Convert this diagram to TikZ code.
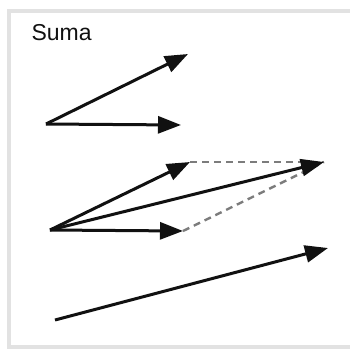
\documentclass[tikz,border=0pt]{standalone}
\usepackage{fontspec}
\setmainfont{Liberation Sans}
\usetikzlibrary{arrows.meta}
\definecolor{INK}{HTML}{111111}
\definecolor{FRAME}{HTML}{E2E2E2}

\begin{document}
\begin{tikzpicture}[
    x=1pt, y=-1pt,
    vec/.style={draw=INK, line width=3pt, -{Triangle[length=23pt, width=17pt]}},
    aux/.style={draw=INK!55, line width=2.4pt, dash pattern=on 7pt off 5pt},
    title/.style={font=\fontsize{23}{27}\selectfont, text=INK, anchor=west},
  ]
  \useasboundingbox (0,0) rectangle (350,349);

  % frame
  \draw[FRAME, line width=4pt] (352,11) -- (9,11) -- (9,347) -- (352,347);

  \node[title] (lbl) at (28,33) {Suma};

  % two vectors
  \coordinate (o1) at (46,124);
  \coordinate (a1) at (188,54);
  \coordinate (b1) at (181,125);
  \draw[vec] (o1) -- (a1);
  \draw[vec] (o1) -- (b1);

  % parallelogram
  \coordinate (o2) at (50,230);
  \coordinate (a2) at (190,162);
  \coordinate (b2) at (183,231);
  \coordinate (s2) at (324,162);
  \draw[aux] (a2) -- (s2);
  \draw[aux] (b2) -- (s2);
  \draw[vec] (o2) -- (a2);
  \draw[vec] (o2) -- (b2);
  \draw[vec] (o2) -- (s2);

  % resultant
  \coordinate (o3) at (55,320);
  \coordinate (s3) at (328,248);
  \draw[vec] (o3) -- (s3);

\end{tikzpicture}
\end{document}
